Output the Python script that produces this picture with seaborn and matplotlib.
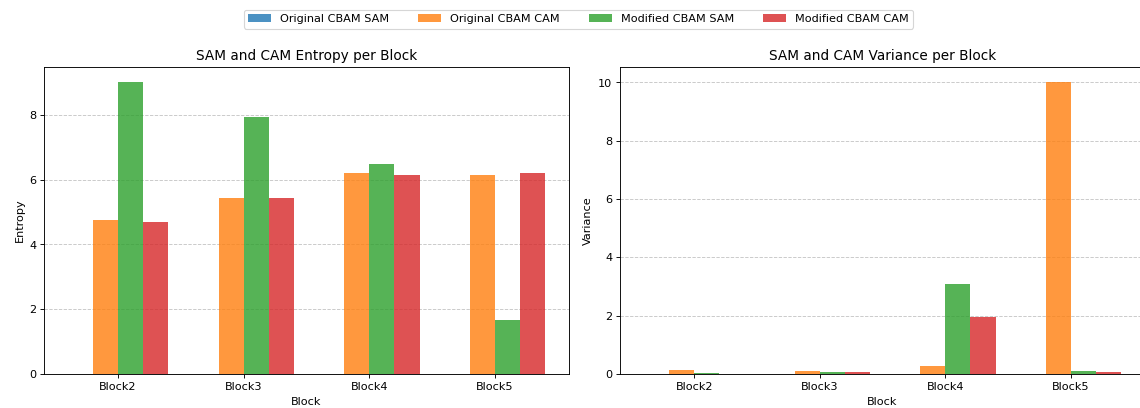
import matplotlib
matplotlib.use("Agg")
import matplotlib.pyplot as plt
import seaborn as sns
import pandas as pd

blocks = ["Block2", "Block3", "Block4", "Block5"]
series = ["Original CBAM SAM", "Original CBAM CAM", "Modified CBAM SAM", "Modified CBAM CAM"]

entropy_orig_sam = [0.0, 0.0, 0.0, 0.0]
entropy_orig_cam = [4.75, 5.42, 6.20, 6.15]
entropy_mod_sam = [9.03, 7.92, 6.48, 1.67]
entropy_mod_cam = [4.70, 5.42, 6.15, 6.20]

variance_orig_sam = [0.0, 0.0, 0.0, 0.0]
variance_orig_cam = [0.15, 0.10, 0.27, 10.03]
variance_mod_sam = [0.02, 0.06, 3.08, 0.12]
variance_mod_cam = [0.0, 0.06, 1.97, 0.06]

colors = ["#1f77b4", "#ff7f0e", "#2ca02c", "#d62728"]


def long_frame(values_by_series, name):
    rows = []
    for s, vals in zip(series, values_by_series):
        for b, v in zip(blocks, vals):
            rows.append({"Block": b, "Series": s, name: v})
    return pd.DataFrame(rows)


entropy_df = long_frame([entropy_orig_sam, entropy_orig_cam, entropy_mod_sam, entropy_mod_cam], "Entropy")
variance_df = long_frame([variance_orig_sam, variance_orig_cam, variance_mod_sam, variance_mod_cam], "Variance")

fig = plt.figure(figsize=(14, 5.012), dpi=1140 / 14)
ax1 = fig.add_axes([0.0386, 0.0833, 0.4605, 0.7525])
ax2 = fig.add_axes([0.5439, 0.0833, 0.4605, 0.7525])

for ax, df, metric, title, arrays in [
    (ax1, entropy_df, "Entropy", "SAM and CAM Entropy per Block",
     [entropy_orig_cam, entropy_mod_sam, entropy_mod_cam]),
    (ax2, variance_df, "Variance", "SAM and CAM Variance per Block",
     [variance_orig_cam, variance_mod_sam, variance_mod_cam]),
]:
    sns.barplot(data=df, x="Block", y=metric, hue="Series", hue_order=series,
                order=blocks, palette=colors, saturation=1, alpha=0.8,
                width=0.8, ax=ax, errorbar=None)
    ax.set_title(title, fontsize=12)
    ax.set_xlabel("Block")
    ax.set_ylabel(metric)
    ax.grid(axis="y", linestyle="--", alpha=0.7)
    ax.set_axisbelow(True)
    # bars span -0.4 .. 3.4; pad by 5% like matplotlib's default margins
    span = 3.8
    ax.set_xlim(-0.4 - 0.05 * span, 3.4 + 0.05 * span)
    top = max(max(a) for a in arrays)
    ax.set_ylim(0, top * 1.05)

handles, labels = ax1.get_legend_handles_labels()
ax1.get_legend().remove()
ax2.get_legend().remove()
fig.legend(handles, labels, loc="upper center", ncol=4, bbox_to_anchor=(0.5075, 0.99),
           columnspacing=2.6)

fig.savefig("out.png", dpi=1140 / 14)
